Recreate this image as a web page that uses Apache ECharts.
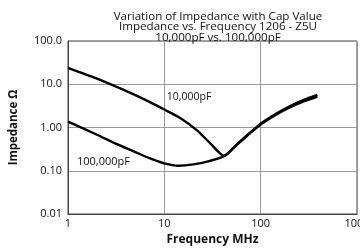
<!DOCTYPE html>
<html><head><meta charset="utf-8">
<script src="https://cdn.jsdelivr.net/npm/echarts@6/dist/echarts.min.js"></script>
<style>html,body{margin:0;padding:0;background:#fff}#c{width:360px;height:251px}</style>
</head><body><div id="c"></div>
<script>
var titleLines = ['Variation of Impedance with Cap Value', 'Impedance vs. Frequency 1206 - Z5U', '10,000pF vs. 100,000pF'];
var xName = 'Frequency MHz';
var yName = 'Impedance Ω';
var xTickValues = [1, 10, 100, 1000];
var xTickLabels = ['1', '10', '100', '1000'];
var yTickValues = [0.01, 0.1, 1, 10, 100];
var yTickLabels = ['0.01', '0.10', '1.00', '10.0', '100.0'];
var name10k = '10,000pF';
var freq10k = [1, 2, 4, 7, 10, 15, 22, 30, 42, 55, 71, 100, 140, 200, 280, 388];
var z10k = [24, 13.5, 7.0, 3.9, 2.6, 1.6, 0.85, 0.43, 0.22, 0.383, 0.64, 1.23, 2.0, 3.1, 4.35, 5.7];
var name100k = '100,000pF';
var freq100k = [1, 2, 3, 5, 7, 10, 14, 20, 30, 42, 55, 71, 100, 140, 200, 280, 388];
var z100k = [1.37, 0.68, 0.44, 0.27, 0.195, 0.148, 0.13, 0.14, 0.17, 0.22, 0.377, 0.62, 1.17, 1.9, 2.9, 4.0, 5.2];
var label10kAt = [10.6, 5.1];
var label100kAt = [1.24, 0.16];

function pairs(xs, ys) { return xs.map(function (x, i) { return [x, ys[i]]; }); }
function lookup(vals, labels) {
  return function (v) {
    for (var i = 0; i < vals.length; i++) if (Math.abs(Math.log10(v) - Math.log10(vals[i])) < 1e-6) return labels[i];
    return '';
  };
}
var FONT = '"Open Sans", "Liberation Sans", sans-serif';
var chart = echarts.init(document.getElementById('c'), null, {renderer: 'canvas'});
chart.setOption({
  animation: false,
  title: {
    text: titleLines.join('\n'), left: 213, top: 6, textAlign: 'center',
    textStyle: {fontFamily: FONT, fontSize: 11.6, fontWeight: 'normal', color: '#111', lineHeight: 10.5}
  },
  grid: {left: 68, top: 41, right: 3, bottom: 37, show: true, borderColor: '#444', borderWidth: 1,
    containLabel: false, outerBoundsMode: 'none'},
  xAxis: {
    type: 'log', logBase: 10, min: 1, max: 1000,
    name: xName, nameLocation: 'middle', nameGap: 20,
    nameTextStyle: {fontFamily: FONT, fontSize: 12, fontWeight: 'bold', color: '#111'},
    axisLine: {lineStyle: {color: '#444'}}, axisTick: {show: false},
    axisLabel: {fontFamily: FONT, fontSize: 11, color: '#111', margin: 4, formatter: lookup(xTickValues, xTickLabels)},
    splitLine: {show: true, lineStyle: {color: '#999', width: 1}}
  },
  yAxis: {
    type: 'log', logBase: 10, min: 0.01, max: 100,
    name: yName, nameLocation: 'middle', nameGap: 48,
    nameTextStyle: {fontFamily: FONT, fontSize: 11.5, fontWeight: 'bold', color: '#111'},
    axisLine: {lineStyle: {color: '#444'}}, axisTick: {show: false},
    axisLabel: {fontFamily: FONT, fontSize: 11, color: '#111', margin: 6, formatter: lookup(yTickValues, yTickLabels)},
    splitLine: {show: true, lineStyle: {color: '#999', width: 1}}
  },
  series: [
    {
      type: 'line', name: name10k, data: pairs(freq10k, z10k), smooth: 0.25, symbol: 'none',
      lineStyle: {color: '#000', width: 2.4},
      markPoint: {symbol: 'circle', symbolSize: 0, data: [{coord: label10kAt}],
        label: {show: true, position: 'right', distance: 0, formatter: name10k, fontFamily: FONT, fontSize: 10.5, color: '#111'}}
    },
    {
      type: 'line', name: name100k, data: pairs(freq100k, z100k), smooth: 0.25, symbol: 'none',
      lineStyle: {color: '#000', width: 2.4},
      markPoint: {symbol: 'circle', symbolSize: 0, data: [{coord: label100kAt}],
        label: {show: true, position: 'right', distance: 0, formatter: name100k, fontFamily: FONT, fontSize: 11, color: '#111'}}
    }
  ]
});
</script></body></html>
